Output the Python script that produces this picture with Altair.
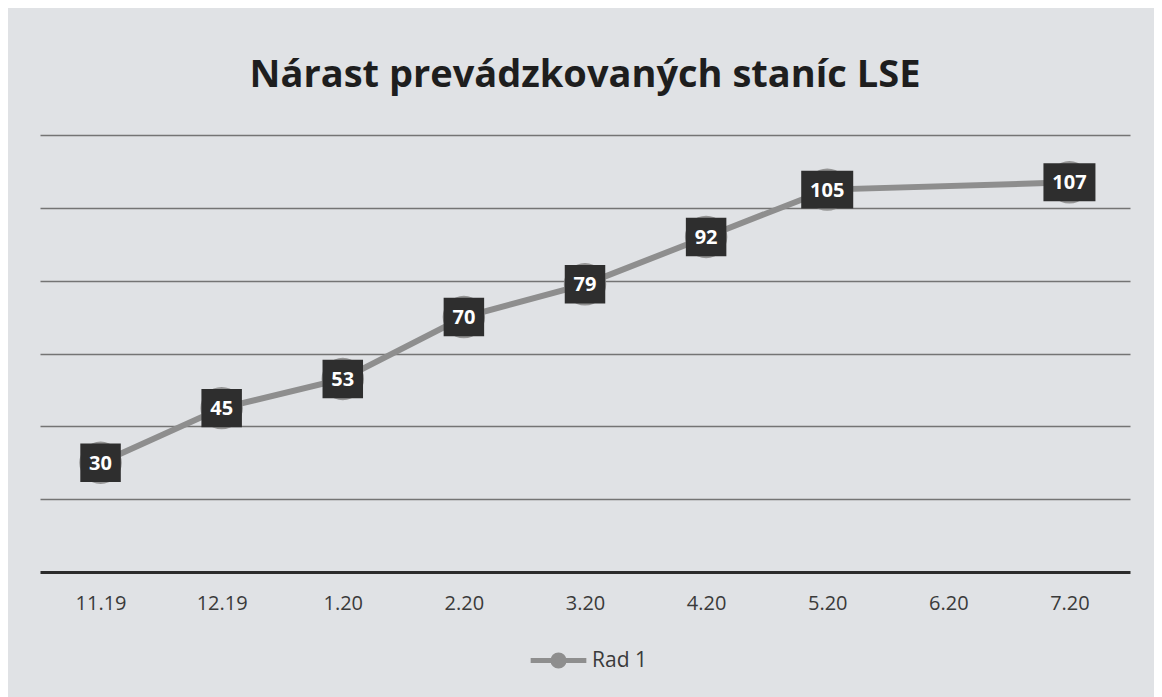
import altair as alt
import pandas as pd

months = ["11.19", "12.19", "1.20", "2.20", "3.20", "4.20", "5.20", "6.20", "7.20"]
values = [30, 45, 53, 70, 79, 92, 105, None, 107]
series = "Rad 1"
grid_values = [20, 40, 60, 80, 100, 120]

rows = [{"month": m, "value": v, "series": series} for m, v in zip(months, values) if v is not None]
df = pd.DataFrame(rows)

FONT = "Open Sans"
LINE_C = "#8e8e8e"

x = alt.X("month:N", sort=months, scale=alt.Scale(domain=months, paddingOuter=0.5, paddingInner=0),
          axis=alt.Axis(title=None, labelAngle=0, labelFontSize=20, labelColor="#3a3a3a", labelFont=FONT,
                        domainColor="#2b2b2b", domainWidth=3, ticks=False, labelPadding=21, grid=False))
y = alt.Y("value:Q", scale=alt.Scale(domain=[0, 120], nice=False, zero=True),
          axis=alt.Axis(title=None, labels=False, ticks=False, domain=False, values=grid_values,
                        grid=True, gridColor="#747474", gridWidth=1.3))

base = alt.Chart(df)

legend_path = "M-1,0L-0.2,0M0.2,0L1,0M0.2,0A0.2,0.2,0,1,1,-0.2,0A0.2,0.2,0,1,1,0.2,0Z"

line = base.mark_line(strokeWidth=6).encode(
    x=x, y=y,
    color=alt.Color("series:N", scale=alt.Scale(range=[LINE_C]),
                    legend=alt.Legend(orient="none", legendX=488, legendY=495, title=None,
                                      symbolType=legend_path, symbolSize=3100, symbolStrokeWidth=5,
                                      symbolFillColor=LINE_C, symbolStrokeColor=LINE_C,
                                      labelFontSize=21, labelFont=FONT, labelColor="#3a3a3a",
                                      labelOffset=3))
)
circles = base.mark_circle(size=1800, color="#949494", opacity=1).encode(x=x, y=y)

box2 = base.transform_filter("datum.value < 100").mark_point(
    shape="M-1,-0.95L1,-0.95L1,0.95L-1,0.95Z", size=1640, filled=True, color="#2e2e2e", opacity=1
).encode(x=x, y=y)
box3 = base.transform_filter("datum.value >= 100").mark_point(
    shape="M-1,-0.73L1,-0.73L1,0.73L-1,0.73Z", size=2704, filled=True, color="#2e2e2e", opacity=1
).encode(x=x, y=y)
labels = base.mark_text(color="white", font=FONT, fontSize=20, fontWeight="bold", dy=1).encode(
    x=x, y=y, text="value:Q")

chart = alt.layer(line, circles, box2, box3, labels).properties(
    width=1090, height=437,
    title=alt.TitleParams("Nárast prevádzkovaných staníc LSE", font=FONT, fontSize=38,
                          fontWeight="bold", color="#1e1e1e", offset=40, anchor="middle"),
    padding={"left": 32, "right": 24, "top": 49, "bottom": 40},
    background="#e0e2e5",
).configure_view(stroke=None)

chart.save("out.html", embed_options={"renderer": "svg", "actions": False})
